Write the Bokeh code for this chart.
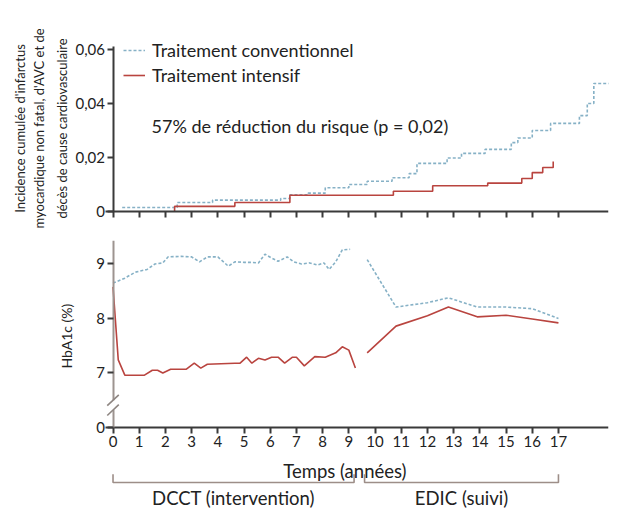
from bokeh.plotting import figure
from bokeh.layouts import column
from bokeh.models import (Range1d, FixedTicker, CustomJSTickFormatter, Legend,
                          LegendItem, Title)
from bokeh.core.properties import value
from bokeh.embed import file_html
from bokeh.resources import INLINE

FONT = "Lato"
CONV_COLOR = "#86b1c6"
INT_COLOR = "#b9443f"
TEXT_COLOR = "#222222"
AXIS_COLOR = "#3a3a3a"

# ---------------- data ----------------
years = list(range(18))

# top panel: cumulative incidence (step functions)
top_ticks = [0, 0.02, 0.04, 0.06]
conv_evt_t = [0.35, 2.45, 3.8, 6.4, 6.75, 7.45, 8.1, 9.0, 9.7, 10.65, 11.3, 11.6,
              12.75, 13.3, 14.2, 15.2, 15.45, 16.0, 16.7, 17.8, 18.1, 18.35, 19.5]
conv_evt_v = [0.0015, 0.0033, 0.0042, 0.0048, 0.0062, 0.0068, 0.0088, 0.0100, 0.0112,
              0.0125, 0.0140, 0.0178, 0.0198, 0.0215, 0.0230, 0.0255, 0.0272, 0.0300,
              0.0326, 0.0355, 0.0400, 0.0474, 0.0474]
int_evt_t = [2.35, 2.35, 4.65, 6.75, 10.7, 12.2, 14.3, 15.6, 16.0, 16.4, 16.8, 16.8]
int_evt_v = [0.0, 0.0019, 0.0033, 0.0060, 0.0075, 0.0095, 0.0105, 0.0122, 0.0144,
             0.0163, 0.0163, 0.0185]

# bottom panel: HbA1c (%)
hba_ticks = [6, 7, 8, 9]
AXIS_BREAK = 6  # value drawn where the broken axis shows "0"
dcct_conv_t = [0, 0.45, 0.85, 1.3, 1.6, 1.9, 2.1, 2.6, 3.0, 3.3, 3.6, 4.0, 4.4, 4.65,
               5.0, 5.3, 5.55, 5.8, 6.05, 6.3, 6.65, 6.9, 7.2, 7.5, 7.8, 8.05, 8.25,
               8.5, 8.75, 9.05]
dcct_conv_v = [8.65, 8.74, 8.85, 8.9, 9.0, 9.02, 9.13, 9.14, 9.13, 9.04, 9.13, 9.13,
               8.96, 9.04, 9.03, 9.03, 9.02, 9.18, 9.11, 9.05, 9.13, 9.04, 9.0, 9.02,
               8.98, 9.02, 8.9, 9.04, 9.26, 9.27]
dcct_int_t = [0, 0.2, 0.45, 1.2, 1.5, 1.7, 1.9, 2.2, 2.8, 3.1, 3.35, 3.6, 4.65, 4.85,
              5.1, 5.3, 5.55, 5.8, 6.05, 6.3, 6.55, 6.85, 7.0, 7.3, 7.7, 8.1, 8.5,
              8.75, 9.0, 9.25]
dcct_int_v = [8.58, 7.24, 6.96, 6.96, 7.05, 7.05, 7.0, 7.07, 7.07, 7.18, 7.09, 7.16,
              7.18, 7.18, 7.29, 7.18, 7.27, 7.24, 7.29, 7.29, 7.18, 7.29, 7.29, 7.13,
              7.3, 7.29, 7.37, 7.48, 7.42, 7.09]
edic_t = [9.7, 10.8, 12.0, 12.8, 13.9, 15.0, 16.0, 17.0]
edic_conv_v = [9.08, 8.21, 8.29, 8.38, 8.21, 8.21, 8.18, 8.0]
edic_int_v = [7.37, 7.86, 8.05, 8.21, 8.03, 8.06, 7.99, 7.92]

# study phases
phase_names = ["DCCT (intervention)", "EDIC (suivi)"]
phase_start = [0, 9.6]
phase_end = [9.2, 17.0]

top_title_lines = ["Incidence cumulée d'infarctus",
                   "myocardique non fatal, d'AVC et de",
                   "décès de cause cardiovasculaire"]

X_START, X_END = -1.47, 18.91
xr = Range1d(X_START, X_END)

common = dict(width=612, x_range=xr, output_backend="svg", toolbar_location=None,
              min_border_left=74, min_border_right=4, outline_line_color=None,
              background_fill_color="white", border_fill_color="white")


def style_axes(p, ylinecolor, x_at):
    for ax in p.xaxis + p.yaxis:
        ax.axis_line_width = 2
        ax.major_tick_line_width = 2
        ax.major_tick_line_color = AXIS_COLOR
        ax.major_tick_in = 0
        ax.major_tick_out = 6
        ax.minor_tick_line_color = None
        ax.major_label_text_font = FONT
        ax.major_label_text_color = TEXT_COLOR
    p.xaxis.major_label_standoff = 3
    p.yaxis.major_label_standoff = 2
    p.xaxis.axis_line_color = AXIS_COLOR
    p.xaxis.fixed_location = x_at
    p.xaxis.bounds = (-0.3, X_END)
    p.xaxis.ticker = FixedTicker(ticks=years)
    p.yaxis.axis_line_color = ylinecolor
    p.yaxis.fixed_location = 0
    p.yaxis.major_label_text_font_size = "15px"
    p.xgrid.visible = False
    p.ygrid.visible = False


# ---------------- top panel ----------------
top = figure(height=236, y_range=Range1d(-0.00556, 0.067), min_border_top=30,
             min_border_bottom=10, **common)
style_axes(top, AXIS_COLOR, 0)
top.xaxis.major_label_text_color = None
top.yaxis.bounds = (0, 0.0612)
top.yaxis.ticker = FixedTicker(ticks=top_ticks)
top.yaxis.formatter = CustomJSTickFormatter(
    code="return tick === 0 ? '0' : tick.toFixed(2).replace('.', ',');")

r_conv = top.step(conv_evt_t, conv_evt_v, mode="after", line_color=CONV_COLOR,
                  line_dash="3 2", line_width=1.6)
r_int = top.step(int_evt_t, int_evt_v, mode="after", line_color=INT_COLOR,
                 line_width=1.6)

legend = Legend(items=[LegendItem(label="Traitement conventionnel", renderers=[r_conv]),
                       LegendItem(label="Traitement intensif", renderers=[r_int])],
                location=(49, 140), glyph_width=22, glyph_height=22, label_height=22,
                label_standoff=7, spacing=3, padding=0, margin=0,
                border_line_color=None, background_fill_alpha=0,
                label_text_font=FONT, label_text_font_size="18px",
                label_text_color=TEXT_COLOR)
top.add_layout(legend)

top.text(x=[1.47], y=[0.0315], text=["57% de réduction du risque (p = 0,02)"],
         text_font=value(FONT), text_font_size="18px", text_color=TEXT_COLOR,
         text_align="left", text_baseline="middle")

# y title: three lines, nearest to the axis first
for line_text, so in zip(reversed(top_title_lines), [9, 1, 1]):
    top.add_layout(Title(text=line_text, align="center", text_font=FONT,
                         text_font_size="13px", text_font_style="normal",
                         text_color=TEXT_COLOR, standoff=so), "left")

# ---------------- bottom panel ----------------
bot = figure(height=276, y_range=Range1d(4.4404, 9.431), min_border_top=4,
             min_border_bottom=0, **common)
style_axes(bot, "#9d9490", AXIS_BREAK)
bot.xaxis.major_label_text_font_size = "15px"
bot.yaxis.bounds = (AXIS_BREAK, 9.431)
bot.yaxis.ticker = FixedTicker(ticks=hba_ticks)
bot.yaxis.formatter = CustomJSTickFormatter(
    code="return tick === %d ? '0' : tick.toFixed(0);" % AXIS_BREAK)

bot.line(dcct_conv_t, dcct_conv_v, line_color=CONV_COLOR, line_dash="3 2", line_width=1.6)
bot.line(edic_t, edic_conv_v, line_color=CONV_COLOR, line_dash="3 2", line_width=1.6)
bot.line(dcct_int_t, dcct_int_v, line_color=INT_COLOR, line_width=1.6)
bot.line(edic_t, edic_int_v, line_color=INT_COLOR, line_width=1.6)

# axis break marks
bot.line(x=[0, 0], y=[6.32, 6.5], line_color="white", line_width=5, level="overlay")
bot.segment(x0=[-0.22, -0.22], y0=[6.22, 6.40], x1=[0.22, 0.22], y1=[6.42, 6.60],
            line_color="#8e8682", line_width=1.6, level="overlay")

bot.add_layout(Title(text="HbA1c (%)", align="left", offset=144, text_font=FONT,
                     text_font_size="14px", text_font_style="normal",
                     text_color=TEXT_COLOR, standoff=0), "left")

# x title, study phase brackets and names (below the time axis)
bot.text(x=[8.85], y=[5.21], text=["Temps (années)"], text_font=value(FONT),
         text_font_size="18.5px", text_color=TEXT_COLOR, text_align="center",
         text_baseline="alphabetic")
for a, b in zip(phase_start, phase_end):
    bot.line(x=[a, a, b, b], y=[5.14, 4.99, 4.99, 5.14], line_color="#9d8e88",
             line_width=1.6)
bot.text(x=[(a + b) / 2 for a, b in zip(phase_start, phase_end)], y=[4.70, 4.70],
         text=phase_names, text_font=value(FONT), text_font_size="18.5px",
         text_color=TEXT_COLOR, text_align="center", text_baseline="alphabetic")

layout = column(top, bot, spacing=0)
open("out.html", "w").write(file_html(layout, INLINE))
